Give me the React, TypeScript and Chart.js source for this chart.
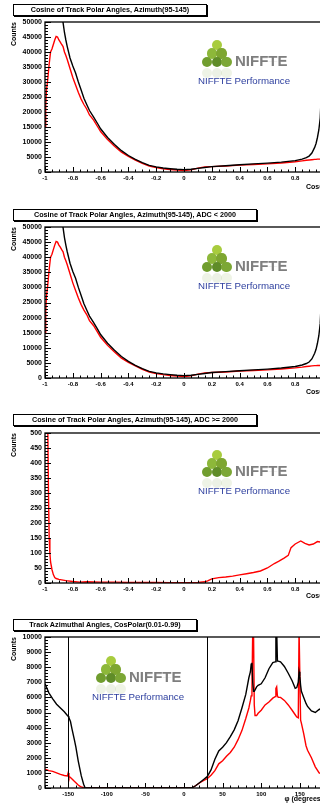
import React, { useEffect, useRef } from "react";
import { Chart, registerables } from "chart.js";

Chart.register(...registerables);

const FONT = "'Liberation Sans', Arial, Helvetica, sans-serif";

// ---------- data ----------
const COS_X_TICKS = [-1, -0.8, -0.6, -0.4, -0.2, 0, 0.2, 0.4, 0.6, 0.8, 1];
const PHI_X_TICKS = [-150, -100, -50, 0, 50, 100, 150];

const COS_BINS = [-1, -0.995, -0.99, -0.98, -0.97, -0.96, -0.95, -0.94, -0.93, -0.92, -0.91, -0.9, -0.89, -0.88, -0.87, -0.86, -0.85, -0.84, -0.82, -0.8, -0.78, -0.76, -0.74, -0.72, -0.7, -0.68, -0.65, -0.62, -0.6, -0.55, -0.5, -0.45, -0.4, -0.35, -0.3, -0.25, -0.2, -0.15, -0.1, -0.05, 0, 0.05, 0.1, 0.15, 0.2, 0.3, 0.4, 0.5, 0.6, 0.7, 0.8, 0.85, 0.88, 0.9, 0.92, 0.94, 0.95, 0.96, 0.97, 0.98, 0.99, 1];

const ALL_BLACK = [60000, 80000, 95000, 100000, 100000, 98000, 95000, 90000, 82000, 75000, 68000, 62000, 57000, 53000, 49800, 46500, 44000, 41800, 38000, 35300, 33000, 30000, 27300, 24600, 22500, 20500, 18300, 16000, 14400, 11500, 9200, 7100, 5500, 4200, 3100, 2200, 1700, 1350, 1100, 900, 800, 900, 1200, 1500, 1800, 2100, 2400, 2700, 2950, 3300, 3800, 4300, 4800, 5300, 6300, 8200, 9500, 11500, 14000, 18000, 28000, 40000];
const ALL_RED = [15000, 22000, 27000, 31000, 36000, 40000, 41000, 42500, 44000, 45200, 45000, 44000, 43300, 42500, 41800, 40000, 38800, 37500, 34500, 31500, 29000, 26500, 24300, 22500, 21000, 19000, 17300, 15000, 13500, 10800, 8600, 6600, 5200, 4000, 2900, 2000, 1500, 1100, 850, 650, 500, 700, 1300, 1700, 1800, 2000, 2300, 2500, 2700, 3000, 3400, 3700, 3900, 4000, 4100, 4200, 4200, 4300, 4300, 4300, 4200, 4100];

const LOW_BLACK = [60000, 80000, 95000, 100000, 100000, 98000, 95000, 90000, 82000, 75000, 68000, 62000, 57000, 53000, 49800, 46500, 44000, 41800, 38000, 35300, 33000, 30000, 27300, 24600, 22500, 20500, 18300, 16000, 14400, 11500, 9200, 7100, 5500, 4200, 3100, 2200, 1700, 1350, 1100, 900, 800, 900, 1200, 1500, 1800, 2100, 2400, 2700, 2950, 3300, 3800, 4300, 4800, 5300, 6300, 8200, 9500, 11500, 14000, 18000, 28000, 40000];
const LOW_RED = [14800, 21800, 26800, 30900, 36000, 40000, 41000, 42500, 44000, 45200, 45000, 44000, 43300, 42500, 41800, 40000, 38800, 37500, 34500, 31500, 29000, 26500, 24300, 22500, 21000, 19000, 17300, 15000, 13500, 10800, 8600, 6600, 5200, 4000, 2900, 2000, 1500, 1100, 850, 650, 500, 700, 1300, 1700, 1800, 2000, 2300, 2500, 2700, 3000, 3350, 3600, 3800, 3900, 4000, 4100, 4100, 4150, 4150, 4150, 4100, 4000];

const HIGH_BINS = [-1, -0.99, -0.98, -0.975, -0.97, -0.965, -0.96, -0.95, -0.94, -0.93, -0.92, -0.9, -0.85, -0.8, -0.75, -0.7, -0.6, -0.5, -0.4, -0.3, -0.2, -0.1, 0, 0.1, 0.15, 0.17, 0.2, 0.25, 0.3, 0.35, 0.4, 0.45, 0.5, 0.55, 0.6, 0.65, 0.68, 0.72, 0.75, 0.77, 0.8, 0.84, 0.87, 0.9, 0.93, 0.96, 1];
const HIGH_RED = [1500, 1000, 520, 300, 150, 100, 70, 45, 28, 18, 15, 12, 8, 5, 3, 4, 3, 3, 2, 2, 2, 1, 1, 2, 4, 7, 14, 18, 20, 23, 27, 31, 35, 40, 50, 65, 72, 83, 92, 118, 130, 140, 132, 127, 130, 138, 135];

const PHI_BINS = [-180, -175, -170, -165, -160, -155, -151, -150, -149, -147, -145, -142, -140, -137, -135, -133, -130, -128, -100, -50, 0, 10, 15, 20, 25, 30, 35, 40, 45, 50, 55, 60, 65, 70, 75, 80, 84, 86, 87, 88, 89, 90, 91, 92, 94, 96, 100, 105, 110, 115, 118, 119, 120, 121, 122, 125, 130, 135, 140, 144, 146, 148, 149, 150, 151, 152, 155, 158, 160, 165, 170, 175, 180];
const PHI_BLACK = [6900, 6300, 5900, 5550, 5300, 5050, 4800, 4750, 4650, 4400, 3900, 3200, 2700, 1800, 1300, 800, 250, 0, 0, 0, 0, 0, 150, 350, 550, 750, 1200, 1900, 2450, 2700, 3000, 3400, 3850, 4450, 5300, 6200, 7300, 7700, 8200, 8300, 7000, 6400, 6400, 6500, 6700, 6800, 6900, 7300, 7900, 8300, 8350, 10500, 10500, 8400, 8400, 8350, 8050, 7600, 7100, 6600, 6650, 7000, 7700, 7400, 6800, 6400, 6000, 5600, 5400, 5100, 5000, 5200, 5300];
const PHI_RED = [1250, 1150, 1100, 1000, 900, 830, 800, 1000, 780, 700, 600, 440, 350, 200, 130, 80, 20, 0, 0, 0, 0, 0, 150, 330, 480, 620, 850, 1150, 1600, 1800, 2100, 2350, 2700, 3200, 3800, 4600, 5300, 5800, 6100, 6400, 10500, 10500, 5500, 4800, 4800, 4950, 5150, 5500, 5700, 5950, 6050, 6600, 6700, 6100, 6000, 6000, 5800, 5500, 5150, 4850, 4700, 4650, 10500, 10500, 4500, 4300, 3600, 2800, 2500, 2000, 1400, 1000, 900];
const PHI_CUTS = [-150, 30];

// ---------- layout constants ----------
const CANVAS_W = 344;
const PLOT_RIGHT_PAD = 21; // chart area right edge at 323
const PAD_TOP = 10;
const X_AXIS_H = 22;

type Ser = { xs: number[]; ys: number[]; color: string };

type PanelProps = {
  plotTop: number;
  plotH: number;
  xMin: number;
  xMax: number;
  xTicks: number[];
  xMinor: number;
  yMax: number;
  yStep: number;
  yMinor: number;
  xTitle: string;
  xTitleOffset: number;
  series: Ser[];
  markers?: number[];
};

function Panel(p: PanelProps) {
  const ref = useRef<HTMLCanvasElement>(null);
  const canvasH = PAD_TOP + p.plotH + X_AXIS_H;

  useEffect(() => {
    if (!ref.current) return;
    const framePlugin = {
      id: "rootFrame",
      afterDatasetsDraw(chart: any) {
        const { ctx, chartArea: a } = chart;
        const xs = chart.scales.x;
        const ys = chart.scales.y;
        ctx.save();
        ctx.strokeStyle = "#000";
        if (p.markers) {
          ctx.lineWidth = 1;
          ctx.beginPath();
          for (const m of p.markers) {
            const px = Math.round(xs.getPixelForValue(m)) + 0.5;
            ctx.moveTo(px, a.top);
            ctx.lineTo(px, a.bottom);
          }
          ctx.stroke();
        }
        ctx.lineWidth = 1;
        ctx.beginPath();
        for (const t of xs.ticks) {
          const px = Math.round(xs.getPixelForValue(t.value)) + 0.5;
          ctx.moveTo(px, a.bottom);
          ctx.lineTo(px, a.bottom - 5);
        }
        for (let i = 0; ; i++) {
          const v = p.xMin + i * p.xMinor;
          if (v > p.xMax + 1e-9) break;
          const px = Math.round(xs.getPixelForValue(v)) + 0.5;
          ctx.moveTo(px, a.bottom);
          ctx.lineTo(px, a.bottom - 2.5);
        }
        for (const t of ys.ticks) {
          const py = Math.round(ys.getPixelForValue(t.value)) + 0.5;
          ctx.moveTo(a.left, py);
          ctx.lineTo(a.left + 6, py);
        }
        for (let i = 0; ; i++) {
          const v = i * p.yMinor;
          if (v > p.yMax + 1e-9) break;
          const py = Math.round(ys.getPixelForValue(v)) + 0.5;
          ctx.moveTo(a.left, py);
          ctx.lineTo(a.left + 3, py);
        }
        ctx.stroke();
        ctx.lineWidth = 1.3;
        ctx.strokeRect(a.left, a.top, a.right - a.left, a.bottom - a.top);
        ctx.restore();
      },
    };

    const chart = new Chart(ref.current, {
      type: "line",
      data: {
        datasets: p.series.map((s) => ({
          data: s.xs.map((x, i) => ({ x, y: s.ys[i] })),
          borderColor: s.color,
          borderWidth: 1.4,
          pointRadius: 0,
          fill: false,
          tension: 0,
        })),
      },
      options: {
        animation: false,
        responsive: false,
        devicePixelRatio: 1,
        events: [],
        layout: { padding: { top: PAD_TOP, right: PLOT_RIGHT_PAD, left: 0, bottom: 0 } },
        plugins: {
          legend: { display: false },
          tooltip: { enabled: false },
          title: { display: false },
        },
        scales: {
          x: {
            type: "linear",
            min: p.xMin,
            max: p.xMax,
            grid: { display: false, drawTicks: false },
            border: { display: false },
            ticks: {
              autoSkip: false,
              maxRotation: 0,
              padding: 2.5,
              color: "#000",
              font: { family: FONT, size: 6, weight: "bold" },
              callback: (v: any) => String(Math.round(Number(v) * 100) / 100),
            },
            title: {
              display: true,
              text: p.xTitle,
              align: "end",
              color: "#000",
              font: { family: FONT, size: 7, weight: "bold" },
              padding: { top: 0, bottom: X_AXIS_H - p.xTitleOffset - 4.2 },
            },
            afterBuildTicks: (scale: any) => {
              scale.ticks = p.xTicks.map((v) => ({ value: v }));
            },
            afterFit: (scale: any) => {
              scale.height = X_AXIS_H;
            },
          } as any,
          y: {
            type: "linear",
            min: 0,
            max: p.yMax,
            grid: { display: false, drawTicks: false },
            border: { display: false },
            ticks: {
              stepSize: p.yStep,
              autoSkip: false,
              padding: 3,
              color: "#000",
              font: { family: FONT, size: 7, weight: "bold" },
              callback: (v: any) => String(v),
            },
            title: {
              display: true,
              text: "Counts",
              align: "end",
              color: "#000",
              font: { family: FONT, size: 7, weight: "bold" },
              padding: { top: 9.8, bottom: 0 },
            },
            afterFit: (scale: any) => {
              scale.width = 45;
            },
          } as any,
        },
      },
      plugins: [framePlugin],
    });
    return () => chart.destroy();
  }, []);

  return (
    <canvas
      ref={ref}
      width={CANVAS_W}
      height={canvasH}
      style={{
        position: "absolute",
        left: 0,
        top: p.plotTop - PAD_TOP,
        width: CANVAS_W,
        height: canvasH,
      }}
    />
  );
}

function TitleBox({ left, top, width, text }: { left: number; top: number; width: number; text: string }) {
  return (
    <div
      style={{
        position: "absolute",
        left,
        top,
        width,
        height: 12,
        boxSizing: "border-box",
        border: "1px solid #000",
        boxShadow: "1px 1px 0 #000",
        background: "#fff",
        fontFamily: FONT,
        fontWeight: "bold",
        fontSize: 7.2,
        lineHeight: "10px",
        textAlign: "center",
        whiteSpace: "nowrap",
        color: "#000",
      }}
    >
      {text}
    </div>
  );
}

const LOGO_CIRCLES = [
  { cx: 18.7, cy: 5, c: "#a8cc3e" },
  { cx: 14, cy: 13.5, c: "#8db83a" },
  { cx: 23.5, cy: 13.5, c: "#7ea631" },
  { cx: 9, cy: 22, c: "#709d2e" },
  { cx: 18.7, cy: 22, c: "#5f8c28" },
  { cx: 28.5, cy: 22, c: "#7ca735" },
];

function Logo({ x, y }: { x: number; y: number }) {
  const r = 5.1;
  return (
    <div style={{ position: "absolute", left: x, top: y, width: 100, height: 48 }}>
      {LOGO_CIRCLES.map((c, i) => (
        <div
          key={i}
          style={{
            position: "absolute",
            left: c.cx - r,
            top: c.cy - r,
            width: 2 * r,
            height: 2 * r,
            borderRadius: "50%",
            background: c.c,
          }}
        />
      ))}
      {LOGO_CIRCLES.slice(3).map((c, i) => (
        <div
          key={"r" + i}
          style={{
            position: "absolute",
            left: c.cx - r,
            top: c.cy + 5.5,
            width: 2 * r,
            height: 2 * r,
            borderRadius: "50%",
            background: c.c,
            opacity: 0.12,
          }}
        />
      ))}
      <span
        style={{
          position: "absolute",
          left: 37,
          top: 13,
          fontFamily: FONT,
          fontWeight: "bold",
          fontSize: 15,
          lineHeight: "15px",
          color: "#7e7e7e",
          whiteSpace: "nowrap",
        }}
      >
        NIFFTE
      </span>
      <span
        style={{
          position: "absolute",
          left: 37,
          top: 24,
          fontFamily: FONT,
          fontWeight: "bold",
          fontSize: 15,
          lineHeight: "15px",
          color: "#8c8c8c",
          opacity: 0.12,
          transform: "scaleY(-0.6)",
          transformOrigin: "top",
          whiteSpace: "nowrap",
        }}
      >
        NIFFTE
      </span>
      <span
        style={{
          position: "absolute",
          left: 0,
          top: 36.2,
          fontFamily: FONT,
          fontSize: 9.7,
          lineHeight: "9.7px",
          color: "#2c3e9e",
          whiteSpace: "nowrap",
        }}
      >
        NIFFTE Performance
      </span>
    </div>
  );
}

export default function App() {
  return (
    <div
      style={{
        position: "fixed",
        left: 0,
        top: 0,
        width: 320,
        height: 805,
        overflow: "hidden",
        background: "#fff",
      }}
    >
      <Panel
        plotTop={22}
        plotH={150}
        xMin={-1}
        xMax={1}
        xTicks={COS_X_TICKS}
        xMinor={0.05}
        yMax={50000}
        yStep={5000}
        yMinor={1000}
        xTitle="Cosθ"
        xTitleOffset={15}
        series={[
          { xs: COS_BINS, ys: ALL_BLACK, color: "#000000" },
          { xs: COS_BINS, ys: ALL_RED, color: "#ff0000" },
        ]}
      />
      <Panel
        plotTop={227}
        plotH={151}
        xMin={-1}
        xMax={1}
        xTicks={COS_X_TICKS}
        xMinor={0.05}
        yMax={50000}
        yStep={5000}
        yMinor={1000}
        xTitle="Cosθ"
        xTitleOffset={14}
        series={[
          { xs: COS_BINS, ys: LOW_BLACK, color: "#000000" },
          { xs: COS_BINS, ys: LOW_RED, color: "#ff0000" },
        ]}
      />
      <Panel
        plotTop={433}
        plotH={150}
        xMin={-1}
        xMax={1}
        xTicks={COS_X_TICKS}
        xMinor={0.05}
        yMax={500}
        yStep={50}
        yMinor={10}
        xTitle="Cosθ"
        xTitleOffset={13}
        series={[{ xs: HIGH_BINS, ys: HIGH_RED, color: "#ff0000" }]}
      />
      <Panel
        plotTop={637}
        plotH={151}
        xMin={-180}
        xMax={180}
        xTicks={PHI_X_TICKS}
        xMinor={10}
        yMax={10000}
        yStep={1000}
        yMinor={200}
        xTitle="φ (degrees)"
        xTitleOffset={11}
        markers={PHI_CUTS}
        series={[
          { xs: PHI_BINS, ys: PHI_BLACK, color: "#000000" },
          { xs: PHI_BINS, ys: PHI_RED, color: "#ff0000" },
        ]}
      />

      <TitleBox left={13} top={4} width={194} text="Cosine of Track Polar Angles, Azimuth(95-145)" />
      <TitleBox left={13} top={209} width={244} text="Cosine of Track Polar Angles, Azimuth(95-145), ADC < 2000" />
      <TitleBox left={13} top={414} width={244} text="Cosine of Track Polar Angles, Azimuth(95-145), ADC >= 2000" />
      <TitleBox left={13} top={619} width={184} text="Track Azimuthal Angles, CosPolar(0.01-0.99)" />

      <Logo x={198} y={40} />
      <Logo x={198} y={245} />
      <Logo x={198} y={450} />
      <Logo x={92} y={656} />
    </div>
  );
}
